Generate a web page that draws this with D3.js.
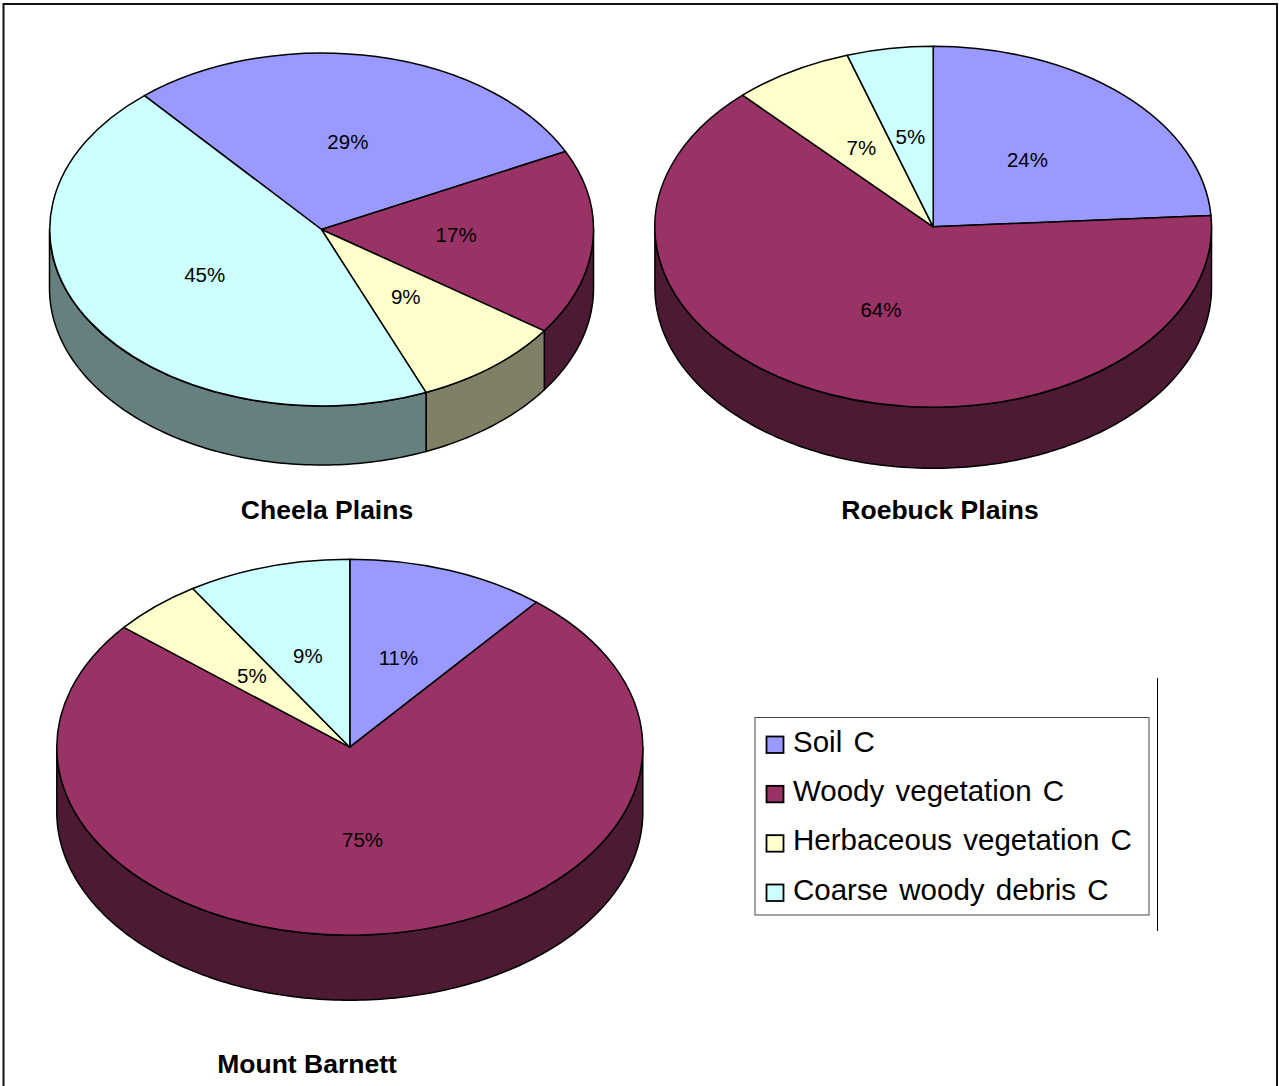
<!DOCTYPE html>
<html>
<head>
<meta charset="utf-8">
<title>Carbon pools by site</title>
<script src="https://cdnjs.cloudflare.com/ajax/libs/d3/7.8.5/d3.min.js"></script>
<style>
  html, body { margin: 0; padding: 0; background: #fff; }
  svg { display: block; }
  text { font-family: "Liberation Sans", Arial, sans-serif; fill: #000; }
  .top path { vector-effect: non-scaling-stroke; }
</style>
</head>
<body>
<svg id="chart" width="1279" height="1086"></svg>
<script>
// Carbon pools, share of total per site (%)
const categories = ["Soil C", "Woody vegetation C", "Herbaceous vegetation C", "Coarse woody debris C"];
const sites = ["Cheela Plains", "Roebuck Plains", "Mount Barnett"];
const cheelaPlains = [29, 17, 9, 45];
const roebuckPlains = [24, 64, 7, 5];
const mountBarnett = [11, 75, 5, 9];
const siteValues = [cheelaPlains, roebuckPlains, mountBarnett];

// Palette
const topColors = ["#9999FF", "#993366", "#FFFFCC", "#CCFFFF"];
const wallColors = ["#4D4D80", "#4D1A33", "#808066", "#668080"];

// Where each tilted pie sits on the page
const pieLayouts = [
  { cx: 321.5, cy: 229.5, rx: 272, ry: 176.5, depth: 59, start: -40.6, titleX: 327, titleY: 519 },
  { cx: 933.2, cy: 226.8, rx: 278.3, ry: 180.5, depth: 61, start: 0, titleX: 940, titleY: 519 },
  { cx: 349.8, cy: 747.2, rx: 293, ry: 188, depth: 65, start: 0, titleX: 307, titleY: 1073 }
];

const svg = d3.select("#chart");
const color = d3.scaleOrdinal().domain(categories).range(topColors);
const wall = d3.scaleOrdinal().domain(categories).range(wallColors);
const rad = d => d * Math.PI / 180;

// Page frame, open at the bottom edge
svg.append("path")
  .attr("d", d3.line()([[3.5, 1086], [3.5, 4], [1277, 4], [1277, 1086]]))
  .attr("fill", "none").attr("stroke", "#111").attr("stroke-width", 2);

const unitArc = d3.arc().innerRadius(0).outerRadius(1);

sites.forEach((site, i) => {
  const L = pieLayouts[i];
  const x = d3.scaleLinear().domain([-1, 1]).range([L.cx - L.rx, L.cx + L.rx]);
  const y = d3.scaleLinear().domain([-1, 1]).range([L.cy - L.ry, L.cy + L.ry]);

  const pie = d3.pie().sort(null)
    .startAngle(rad(L.start))
    .endAngle(rad(L.start + 360))
    .value(d => d.value);
  const slices = pie(siteValues[i].map((value, k) => ({ value, category: categories[k] })));

  const g = svg.append("g").attr("class", "pie");

  // Front wall of the disc: only the lower half of the rim faces the viewer
  const wallArea = d3.area()
    .x(a => x(Math.sin(a)))
    .y0(a => y(-Math.cos(a)))
    .y1(a => y(-Math.cos(a)) + L.depth);

  g.append("g").attr("class", "walls").selectAll("path")
    .data(slices.filter(s => s.endAngle > Math.PI / 2 && s.startAngle < 1.5 * Math.PI))
    .join("path")
    .attr("d", s => {
      const a0 = Math.max(s.startAngle, Math.PI / 2);
      const a1 = Math.min(s.endAngle, 1.5 * Math.PI);
      const steps = Math.max(2, Math.ceil((a1 - a0) / rad(1)));
      return wallArea(d3.range(steps + 1).map(t => a0 + (a1 - a0) * t / steps));
    })
    .attr("fill", s => wall(s.data.category))
    .attr("stroke", "#000").attr("stroke-width", 1.5).attr("stroke-linejoin", "round");

  // Top face: a unit pie stretched to the ellipse
  g.append("g").attr("class", "top")
    .attr("transform", `translate(${L.cx},${L.cy}) scale(${L.rx},${L.ry})`)
    .selectAll("path")
    .data(slices)
    .join("path")
    .attr("d", unitArc)
    .attr("fill", s => color(s.data.category))
    .attr("stroke", "#000").attr("stroke-width", 1.5).attr("stroke-linejoin", "round");

  // Percent labels halfway along each slice
  g.append("g").attr("class", "labels").selectAll("text")
    .data(slices)
    .join("text")
    .attr("x", s => x(unitArc.centroid(s)[0]) - 1)
    .attr("y", s => y(unitArc.centroid(s)[1]) - 1)
    .attr("dy", "0.35em")
    .attr("text-anchor", "middle")
    .attr("font-size", 20.5)
    .text(s => `${s.data.value}%`);

  svg.append("text")
    .attr("x", L.titleX).attr("y", L.titleY)
    .attr("text-anchor", "middle")
    .attr("font-size", 26.5).attr("font-weight", "bold")
    .text(site);
});

// Legend
const legendRow = d3.scalePoint().domain(categories).range([736.5, 884.5]);
const legend = svg.append("g").attr("class", "legend");
legend.append("rect")
  .attr("x", 755).attr("y", 717.5).attr("width", 394).attr("height", 197.5)
  .attr("fill", "#fff").attr("stroke", "#444").attr("stroke-width", 1);

const rows = legend.selectAll("g.row").data(categories).join("g").attr("class", "row");
rows.append("rect")
  .attr("x", 766.5).attr("y", d => legendRow(d))
  .attr("width", 17).attr("height", 16.5)
  .attr("fill", d => color(d))
  .attr("stroke", "#000").attr("stroke-width", 1.8);
rows.append("text")
  .attr("x", 793).attr("y", d => legendRow(d) + 15.2)
  .attr("font-size", 29.5).attr("word-spacing", 3)
  .text(d => d);

// Rule to the right of the legend
svg.append("path")
  .attr("d", d3.line()([[1157.5, 678], [1157.5, 931]]))
  .attr("stroke", "#000").attr("stroke-width", 1);
</script>
</body>
</html>
